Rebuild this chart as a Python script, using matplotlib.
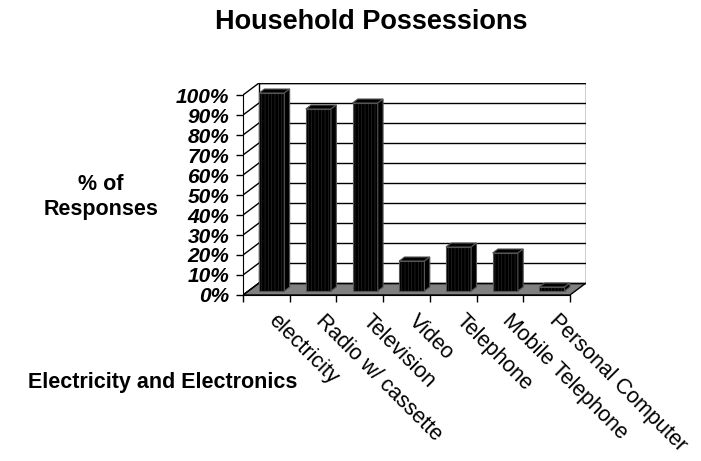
import numpy as np
import matplotlib.pyplot as plt
from matplotlib.patches import Polygon

plt.rcParams['font.family'] = ['Liberation Sans', 'DejaVu Sans']
plt.rcParams['hatch.linewidth'] = 0.5

categories = ['electricity', 'Radio w/ cassette', 'Television', 'Video',
              'Telephone', 'Mobile Telephone', 'Personal Computer']
values = [99, 91, 94, 15, 22, 19, 2]
yticks = list(range(0, 101, 10))
ytick_labels = [f'{v}%' for v in yticks]

n = len(categories)
dx, dy = 0.343, 6.0       # depth offset of the back wall (category units, percent)
bar_w = 0.54

W, H = 701, 461
fig = plt.figure(figsize=(W / 100, H / 100), dpi=100)
# axes: front x=0 at px 243, front y=0 at px 295, 46.71 px per category, 2 px per %
ax = fig.add_axes([243 / W, (H - 295) / H, 343 / W, 212 / H])
ax.set_xlim(0, n + dx)
ax.set_ylim(0, 100 + dy)
ax.patch.set_visible(False)
for s in ['top', 'right']:
    ax.spines[s].set_visible(False)
ax.spines['left'].set_bounds(0, 100)
ax.spines['bottom'].set_bounds(0, n)

# floor
ax.add_patch(Polygon([(0, 0), (n, 0), (n + dx, dy), (dx, dy)], closed=True,
                     facecolor='#808080', edgecolor='black', lw=1, zorder=1))
# back wall
ax.add_patch(Polygon([(dx, dy), (n + dx, dy), (n + dx, 100 + dy), (dx, 100 + dy)],
                     closed=True, facecolor='white', edgecolor='black', lw=1, zorder=1))
for v in yticks:
    ax.plot([dx, n + dx], [v + dy, v + dy], color='black', lw=1, zorder=1.5)
    ax.plot([0, dx], [v, v + dy], color='black', lw=1, zorder=1.5)

# bars, sitting in the middle third of the depth
off_x, off_y = dx / 3, dy / 3
x0s = np.arange(n) + 0.5 - bar_w / 2 + off_x
ax.bar(x0s, values, width=bar_w, bottom=off_y, align='edge', color='black',
       hatch='|||||', edgecolor='#262626', lw=0, zorder=3)
for x0, v in zip(x0s, values):
    x1 = x0 + bar_w
    top = v + off_y
    ax.add_patch(Polygon([(x0, off_y), (x1, off_y), (x1, top), (x0, top)], closed=True,
                         fill=False, edgecolor='#555555', lw=0.8, zorder=4))
    ax.add_patch(Polygon([(x0, top), (x1, top), (x1 + off_x, top + off_y), (x0 + off_x, top + off_y)],
                         closed=True, facecolor='black', edgecolor='#555555', lw=0.8, zorder=4))
    ax.add_patch(Polygon([(x1, off_y), (x1 + off_x, off_y + off_y), (x1 + off_x, top + off_y), (x1, top)],
                         closed=True, facecolor='black', edgecolor='#555555', lw=0.8, zorder=4))

ax.set_yticks(yticks)
ax.set_yticklabels(ytick_labels, fontsize=15, fontweight='bold', fontstyle='italic')
ax.set_xticks(range(n + 1))
ax.set_xticklabels([])
ax.tick_params(axis='y', direction='out', length=5, width=1, pad=5)
ax.tick_params(axis='x', direction='out', length=5, width=1)

for i, name in enumerate(categories):
    ax.text(i + 0.62, -11.5, name, rotation=-45, rotation_mode='anchor',
            ha='left', va='center', fontsize=15.5, clip_on=False)

fig.text(371 / W, 1 - 22 / H, 'Household Possessions', ha='center', va='center',
         fontsize=19.5, fontweight='bold')
fig.text(101 / W, 1 - 197 / H, '% of\nResponses', ha='center', va='center',
         fontsize=15.5, fontweight='bold', linespacing=1.3)
fig.text(297 / W, 1 - 382 / H, 'Electricity and Electronics', ha='right', va='center',
         fontsize=15.5, fontweight='bold')

fig.savefig('out.png', dpi=100)
